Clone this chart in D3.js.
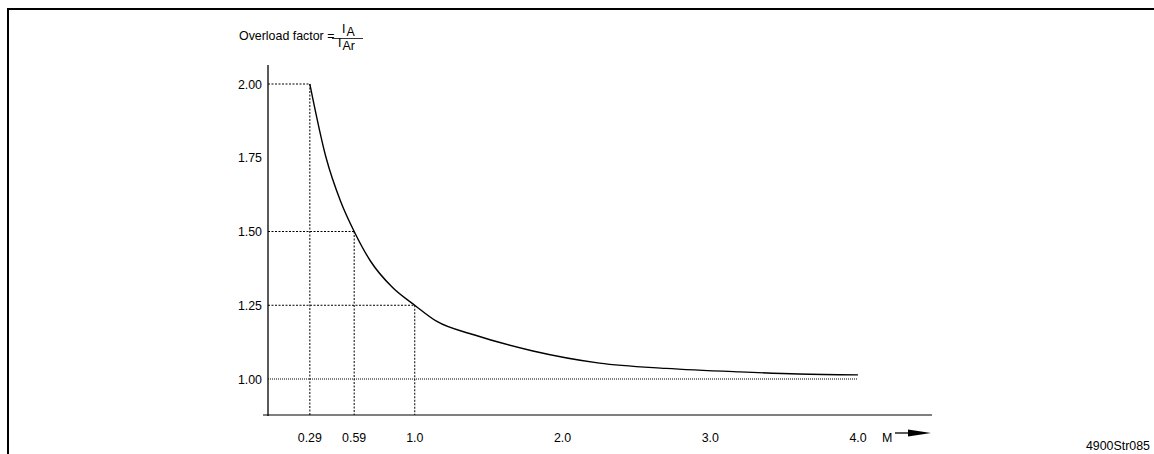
<!DOCTYPE html>
<html>
<head>
<meta charset="utf-8">
<script src="https://cdn.jsdelivr.net/npm/d3@7"></script>
<style>
  body { margin: 0; background: #fff; }
  text { font-family: "Liberation Sans", Arial, sans-serif; fill: #000; font-size: 12.4px; }
</style>
</head>
<body>
<svg width="1154" height="454"></svg>
<script>
// curve values
var mValues = [0.29, 0.40, 0.50, 0.59, 0.70, 0.85, 1.0, 1.15, 1.40, 1.80, 2.25, 2.70, 3.20, 3.60, 4.0];
var factorValues = [2.00, 1.75, 1.60, 1.50, 1.40, 1.31, 1.25, 1.195, 1.15, 1.095, 1.054, 1.036, 1.024, 1.017, 1.014];

// the marked points (dashed guides)
var markM = [0.29, 0.59, 1.0];
var markFactor = [2.00, 1.50, 1.25];

var xTicks = [0.29, 0.59, 1.0, 2.0, 3.0, 4.0];
var xTickLabels = ["0.29", "0.59", "1.0", "2.0", "3.0", "4.0"];
var yTicks = [2.00, 1.75, 1.50, 1.25, 1.00];
var yTickLabels = ["2.00", "1.75", "1.50", "1.25", "1.00"];

var svg = d3.select("svg");

// frame
svg.append("line").attr("x1", 7).attr("y1", 9).attr("x2", 1154).attr("y2", 9)
  .attr("stroke", "#000").attr("stroke-width", 2);
svg.append("line").attr("x1", 8).attr("y1", 8).attr("x2", 8).attr("y2", 454)
  .attr("stroke", "#000").attr("stroke-width", 2);

// scales
var x = d3.scaleLinear().domain([0, 4]).range([267, 858]);
var y = d3.scaleLinear().domain([1.0, 2.0]).range([379, 84]);

var y0 = 415; // x axis position

// axes lines
svg.append("line").attr("x1", x(0) + 1).attr("y1", 65).attr("x2", x(0) + 1).attr("y2", y0 + 1)
  .attr("stroke", "#000").attr("stroke-width", 1.3);
svg.append("line").attr("x1", 263).attr("y1", y0).attr("x2", 932).attr("y2", y0)
  .attr("stroke", "#000").attr("stroke-width", 1.2);

// y tick labels
svg.selectAll(".ylab").data(yTicks).enter().append("text")
  .attr("x", 262).attr("y", function(d) { return y(d) + 4.5; })
  .attr("text-anchor", "end")
  .text(function(d, i) { return yTickLabels[i]; });

// x tick labels
svg.selectAll(".xlab").data(xTicks).enter().append("text")
  .attr("x", function(d) { return x(d); }).attr("y", 442)
  .attr("text-anchor", "middle")
  .text(function(d, i) { return xTickLabels[i]; });

// dashed guides
markM.forEach(function(m, i) {
  svg.append("line")
    .attr("x1", x(0) + 1).attr("y1", y(markFactor[i])).attr("x2", x(m)).attr("y2", y(markFactor[i]))
    .attr("stroke", "#000").attr("stroke-width", 1).attr("stroke-dasharray", "2,1.5");
  svg.append("line")
    .attr("x1", x(m)).attr("y1", y(markFactor[i])).attr("x2", x(m)).attr("y2", y0)
    .attr("stroke", "#000").attr("stroke-width", 1).attr("stroke-dasharray", "2,1.5");
});
// 1.00 line
svg.append("line")
  .attr("x1", x(0) + 1).attr("y1", y(1.0)).attr("x2", x(4.0)).attr("y2", y(1.0))
  .attr("stroke", "#000").attr("stroke-width", 1).attr("stroke-dasharray", "1,1");

// curve
var line = d3.line()
  .x(function(d) { return x(d[0]); })
  .y(function(d) { return y(d[1]); })
  .curve(d3.curveMonotoneX);
svg.append("path")
  .datum(mValues.map(function(m, i) { return [m, factorValues[i]]; }))
  .attr("d", line).attr("fill", "none").attr("stroke", "#000").attr("stroke-width", 1.4);

// M arrow
svg.append("text").attr("x", 882).attr("y", 442).text("M");
svg.append("line").attr("x1", 895).attr("y1", 433).attr("x2", 910).attr("y2", 433)
  .attr("stroke", "#000").attr("stroke-width", 1.3);
svg.append("path").attr("d", "M908,429.5 L931,433 L908,436.5 Z").attr("fill", "#000");

// title with fraction
svg.append("text").attr("x", 239).attr("y", 40).text("Overload factor =");
var num = svg.append("text").attr("x", 342).attr("y", 33);
num.append("tspan").text("I");
num.append("tspan").attr("dy", 3).attr("dx", 1).text("A");
svg.append("line").attr("x1", 332).attr("y1", 38.5).attr("x2", 363).attr("y2", 38.5)
  .attr("stroke", "#000").attr("stroke-width", 0.8);
var den = svg.append("text").attr("x", 338).attr("y", 47);
den.append("tspan").text("I");
den.append("tspan").attr("dy", 3).attr("dx", 1).text("Ar");

// figure code
svg.append("text").attr("x", 1150).attr("y", 450).attr("text-anchor", "end").text("4900Str085");
</script>
</body>
</html>
